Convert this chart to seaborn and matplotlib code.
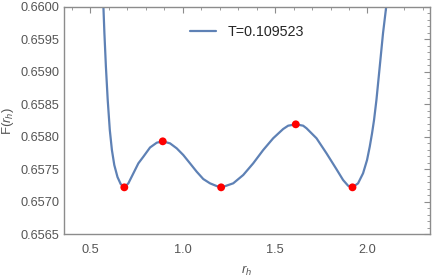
import numpy as np
import pandas as pd
import matplotlib
matplotlib.use("Agg")
import matplotlib.pyplot as plt
import seaborn as sns
from matplotlib.ticker import MultipleLocator, FormatStrFormatter

# curve F(r_h)
r_h = [0.5665, 0.5708, 0.5762, 0.5843, 0.5941, 0.6054, 0.6168, 0.6297, 0.6470,
       0.6643, 0.6843, 0.7059, 0.7330, 0.7600, 0.7870, 0.8232, 0.8595, 0.8919,
       0.9314, 0.9676, 1.0032, 1.0395, 1.0757, 1.1114, 1.1476, 1.1838, 1.2108,
       1.2735, 1.3276, 1.3816, 1.4357, 1.4897, 1.5438, 1.5708, 1.6124, 1.6519,
       1.6703, 1.7243, 1.7784, 1.8324, 1.8681, 1.8951, 1.9189, 1.9492, 1.9762,
       1.9978, 2.0124, 2.0249, 2.0357, 2.0486, 2.0665, 2.0843, 2.1016, 2.1090]
F = [0.66018, 0.660005, 0.659595, 0.65908, 0.658566, 0.658104, 0.657795,
     0.657564, 0.657379, 0.657271, 0.65722, 0.657282, 0.657436, 0.65759,
     0.657692, 0.657834, 0.657908, 0.657929, 0.657898, 0.657821, 0.657718,
     0.65759, 0.657461, 0.657348, 0.657282, 0.65724, 0.65722, 0.657282,
     0.65741, 0.65759, 0.657795, 0.657976, 0.658119, 0.65817, 0.658191,
     0.65817, 0.65813, 0.657976, 0.657744, 0.657499, 0.657333, 0.657245,
     0.65722, 0.657282, 0.657436, 0.657641, 0.657846, 0.658053, 0.658258,
     0.658566, 0.65908, 0.659595, 0.660005, 0.66018]

# extrema (red dots)
ext_r = [0.684, 0.892, 1.208, 1.612, 1.919]
ext_F = [0.65722, 0.657929, 0.65722, 0.658191, 0.65722]

label = "T=0.109523"

df = pd.DataFrame({"r": r_h, "F": F, "T": label})
pts = pd.DataFrame({"r": ext_r, "F": ext_F})

sns.set_style("white")
plt.rcParams['font.family'] = ['Liberation Sans', 'DejaVu Sans']
plt.rcParams['mathtext.fontset'] = 'custom'
plt.rcParams['mathtext.rm'] = 'Liberation Sans'
plt.rcParams['mathtext.it'] = 'Liberation Sans:italic'

fig = plt.figure(figsize=(4.36, 2.77), dpi=100)
ax = fig.add_axes([0.147, 0.155, 0.839, 0.82])

sns.lineplot(data=df, x="r", y="F", hue="T", palette=["#5E81B5"], sort=False,
             linewidth=1.6, ax=ax)
sns.scatterplot(data=pts, x="r", y="F", color="#FF0000", s=32, edgecolor="none",
                zorder=5, ax=ax, legend=False)

ax.set_xlim(0.358, 2.338)
ax.set_ylim(0.6565, 0.6600)
ax.xaxis.set_major_locator(MultipleLocator(0.5))
ax.xaxis.set_minor_locator(MultipleLocator(0.1))
ax.yaxis.set_major_locator(MultipleLocator(0.0005))
ax.yaxis.set_minor_locator(MultipleLocator(0.0001))
ax.xaxis.set_major_formatter(FormatStrFormatter('%.1f'))
ax.yaxis.set_major_formatter(FormatStrFormatter('%.4f'))

gray = "#8c8c8c"
for s in ax.spines.values():
    s.set_color(gray)
    s.set_linewidth(1.0)
ax.tick_params(which="both", direction="in", top=True, right=True,
               color=gray, labelcolor="#555555", labelsize=9.2)
ax.tick_params(which="major", length=4.5, width=0.8)
ax.tick_params(which="minor", length=2.5, width=0.6)
ax.tick_params(axis="x", pad=7)

ax.set_xlabel(r"$r_h$", color="#555555", fontsize=9.5, labelpad=6)
ax.set_ylabel(r"F($r_h$)", color="#555555", fontsize=9.5, labelpad=3)

leg = ax.legend(loc="upper center", bbox_to_anchor=(0.5, 0.975), frameon=False,
                fontsize=10.3, handlelength=1.8, handletextpad=0.8)
leg.set_title(None)

fig.savefig("out.png", dpi=100)
